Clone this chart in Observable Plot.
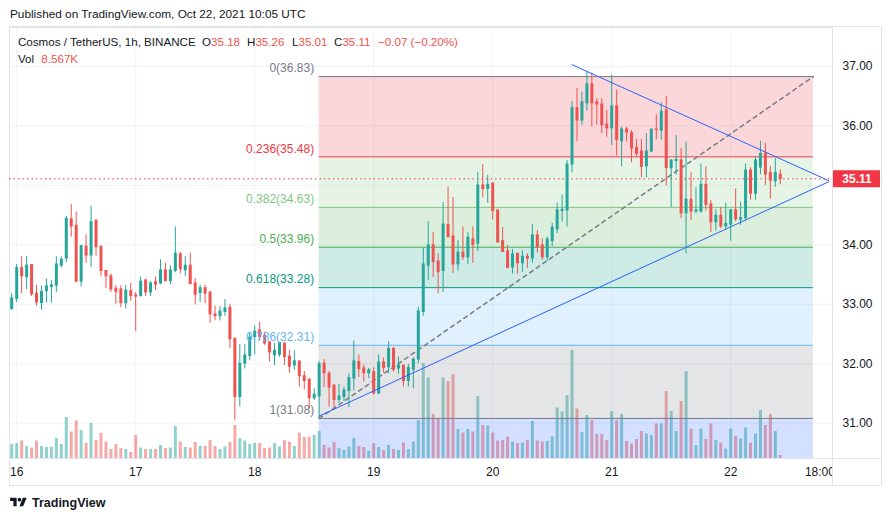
<!DOCTYPE html>
<html><head><meta charset="utf-8">
<script src="https://cdn.jsdelivr.net/npm/d3@7"></script>
<script src="https://cdn.jsdelivr.net/npm/@observablehq/plot@0.6"></script>
<style>
body{margin:0;background:#fff;font-family:"Liberation Sans",Arial,sans-serif;}
#wrap{position:relative;width:892px;height:521px;overflow:hidden;background:#fff;}
#wrap svg{position:absolute;left:0;top:0;}
.t{position:absolute;white-space:nowrap;font-size:11.6px;line-height:14px;color:#131722;z-index:5;}
.r{color:#ef5350;}
#box{position:absolute;left:9px;top:26px;width:873px;height:460px;border:1px solid #e0e3eb;box-sizing:border-box;}
#axcorner{position:absolute;left:833px;top:459px;width:48px;height:25px;background:#fff;z-index:4;}
#hline{position:absolute;left:832px;top:458px;width:50px;height:1px;background:#e0e3eb;z-index:4;}
#vline{position:absolute;left:832px;top:458px;width:1px;height:27px;background:#e0e3eb;z-index:4;}
</style></head><body>
<div id="wrap">
<div id="box"></div>
<div class="t" style="left:10px;top:7px;font-size:11.8px;">Published on TradingView.com, Oct 22, 2021 10:05 UTC</div>
<div class="t" style="left:18px;top:35px;">Cosmos / TetherUS, 1h, BINANCE</div>
<div class="t" style="left:202px;top:35px;">O<span class="r">35.18</span></div>
<div class="t" style="left:247px;top:35px;">H<span class="r">35.26</span></div>
<div class="t" style="left:292px;top:35px;">L<span class="r">35.01</span></div>
<div class="t" style="left:334px;top:35px;">C<span class="r">35.11</span></div>
<div class="t r" style="left:378px;top:35px;">−0.07 (−0.20%)</div>
<div class="t" style="left:18px;top:52px;">Vol <span class="r" style="margin-left:4px">8.567K</span></div>
<div id="axcorner"></div><div id="hline"></div><div id="vline"></div>
<div class="t" style="left:10px;top:496px;"><svg width="17" height="13" viewBox="0 0 36 28" style="position:static;vertical-align:-2px;margin-right:5px"><path d="M14 22H7V11H0V4h14v18z" fill="#131722"/><path d="M28 22h-8l7.5-18h8L28 22z" fill="#131722"/><circle cx="20" cy="8" r="4" fill="#131722"/></svg><b style="font-size:12.5px">TradingView</b></div>
</div>
<script>
// ---- data (1h candles, first candle Oct 15 23:00 UTC) ----
const firstCandle = "2021-10-15T23:00Z";
const open = [32.92,33.09,33.61,33.46,33.66,33.18,33.02,33.22,33.29,33.31,33.65,33.77,34.43,34.32,33.38,33.97,33.82,34.40,33.96,33.56,
33.47,33.26,33.25,33.02,33.22,33.15,33.14,33.40,33.20,33.37,33.35,33.57,33.39,33.56,33.84,33.57,33.65,33.35,33.19,33.27,
33.20,32.83,32.80,32.87,32.94,32.42,31.44,32.00,32.13,32.45,32.56,32.47,32.36,32.14,32.15,32.34,32.12,31.97,32.04,31.79,
31.73,31.42,31.45,32.00,31.83,31.63,31.39,31.44,31.54,31.75,32.03,31.92,31.84,31.86,31.50,32.02,31.94,32.25,31.92,31.97,
31.71,31.90,32.07,32.87,33.65,33.99,33.72,33.56,34.33,34.14,33.67,33.87,33.79,34.09,34.02,35.00,34.94,35.03,34.58,34.06,
33.89,33.62,33.85,33.69,33.80,33.77,34.16,33.99,33.79,34.06,34.26,34.57,34.58,35.35,36.30,36.09,36.38,36.70,36.40,36.36,
36.02,35.96,36.33,35.74,35.94,35.88,35.63,35.57,35.32,35.57,35.94,35.92,36.26,35.29,35.41,35.42,34.53,34.76,34.56,34.56,
35.01,34.68,34.38,34.49,34.31,34.34,34.58,34.42,34.45,35.25,34.86,35.30,35.53,35.21,35.07,35.18];
const high = [33.18,33.67,33.80,33.80,33.67,33.32,33.31,33.42,33.40,33.80,33.80,34.48,34.68,34.55,33.99,34.17,34.65,34.43,33.99,33.57,
33.51,33.31,33.31,33.32,33.35,33.20,33.46,33.42,33.38,33.46,33.75,33.69,33.65,34.30,33.87,33.80,33.86,33.43,33.32,33.32,
33.21,32.97,32.96,33.08,33.00,32.43,32.32,32.32,32.53,32.64,32.70,32.53,32.37,32.34,32.35,32.35,32.23,32.22,32.04,31.87,
31.75,31.58,32.04,32.07,31.87,31.65,31.65,31.61,31.83,32.38,32.15,31.98,31.92,31.93,32.15,32.10,32.37,32.27,32.11,31.97,
31.99,32.10,32.95,33.94,34.39,34.21,33.85,34.71,34.97,34.80,34.07,34.30,34.21,34.30,35.22,35.35,35.17,35.04,34.58,34.29,
33.99,33.92,33.85,33.90,33.85,34.34,34.24,34.10,34.13,34.36,34.70,34.84,35.42,36.41,36.63,36.57,36.92,36.89,36.46,36.46,
36.26,36.86,36.60,35.98,35.98,35.92,35.77,35.77,35.87,35.94,36.19,36.39,36.50,35.43,35.84,35.62,35.73,35.21,34.96,35.36,
35.31,34.75,34.59,34.63,34.70,34.59,34.94,34.72,35.36,35.30,35.47,35.74,35.71,35.32,35.45,35.26];
const low = [32.90,33.03,33.18,33.25,33.13,32.97,32.90,33.02,33.02,33.20,33.61,33.70,34.13,33.37,33.29,33.69,33.62,33.81,33.46,33.27,
33.20,33.00,32.94,32.92,33.05,32.54,33.12,33.13,33.13,33.23,33.33,33.38,33.33,33.53,33.51,33.47,33.33,32.99,33.03,33.01,
32.68,32.72,32.72,32.80,32.26,31.05,31.28,31.91,32.05,32.15,32.39,32.31,32.03,31.97,32.11,31.97,31.84,31.89,31.61,31.56,
31.24,31.38,31.08,31.60,31.27,31.24,31.33,31.37,31.26,31.54,31.77,31.69,31.75,31.47,31.48,31.84,31.83,31.86,31.82,31.61,
31.61,31.58,32.00,32.80,33.40,33.45,33.18,33.20,34.11,33.52,33.56,33.74,33.67,33.69,33.89,34.79,34.70,34.42,34.03,33.88,
33.60,33.51,33.51,33.54,33.60,33.69,33.86,33.74,33.72,33.97,34.19,34.38,34.30,35.21,35.74,36.01,36.25,35.98,36.01,35.87,
35.81,35.67,35.49,35.31,35.73,35.38,35.47,35.13,35.13,35.55,35.77,35.76,34.99,34.63,35.17,34.44,33.85,34.41,34.52,34.53,
34.57,34.21,34.23,34.27,34.25,34.06,34.39,34.33,34.41,34.75,34.75,35.18,35.00,34.77,34.97,35.01];
const close = [33.10,33.61,33.47,33.65,33.17,33.03,33.21,33.30,33.32,33.67,33.75,34.44,34.31,33.38,33.98,33.82,34.38,33.96,33.56,33.47,
33.25,33.21,33.02,33.23,33.14,33.13,33.38,33.20,33.35,33.33,33.57,33.39,33.57,33.85,33.59,33.65,33.34,33.16,33.27,33.18,
32.83,32.80,32.88,32.93,32.41,31.44,32.00,32.14,32.44,32.54,32.45,32.34,32.19,32.22,32.35,32.11,31.95,32.04,31.79,31.71,
31.42,31.48,31.99,31.84,31.60,31.39,31.45,31.55,31.76,32.04,31.91,31.84,31.89,31.50,32.02,31.93,32.25,31.90,31.97,31.71,
31.93,32.07,32.88,33.67,33.99,33.71,33.54,34.34,34.13,33.67,33.87,33.79,34.12,34.00,35.00,34.94,35.01,34.57,34.04,33.88,
33.61,33.84,33.69,33.80,33.77,34.16,33.96,33.79,34.09,34.29,34.58,34.59,35.35,36.30,36.09,36.40,36.70,36.38,36.36,36.01,
35.96,36.33,35.76,35.94,35.89,35.62,35.53,35.31,35.57,35.94,35.93,36.24,35.29,35.42,35.43,34.53,34.76,34.56,34.58,35.01,
34.67,34.38,34.49,34.31,34.35,34.58,34.43,34.45,35.25,34.86,35.42,35.53,35.18,35.08,35.21,35.11];
const volumeK = [40.0,42.9,50.1,34.3,30.0,50.1,34.3,31.5,31.5,57.2,40.0,117.3,75.8,107.3,80.1,42.9,100.1,51.5,71.5,47.2,
25.7,40.0,28.6,25.7,17.2,65.8,30.0,25.7,25.7,25.7,37.2,28.6,30.0,91.5,47.2,31.5,30.0,45.8,34.3,34.3,
51.5,34.3,25.7,32.9,45.8,94.4,57.2,50.1,40.0,42.9,42.9,28.6,30.0,42.9,32.9,51.5,47.2,34.3,72.9,60.1,
61.5,65.8,77.2,37.2,30.0,45.8,28.6,22.9,32.9,57.2,34.3,31.5,20.0,42.9,31.5,22.9,37.2,25.7,22.9,44.3,
25.7,47.2,108.7,271.7,230.2,125.8,114.4,230.2,220.2,240.2,82.9,72.9,82.9,75.8,177.3,94.4,93.0,72.9,50.1,51.5,
61.5,47.2,42.9,44.3,51.5,105.8,50.1,47.2,48.6,61.5,144.4,133.0,180.2,308.9,141.6,74.4,123.0,108.7,68.6,68.6,
51.5,134.4,108.7,125.8,48.6,41.5,54.3,77.2,70.1,65.8,98.7,98.7,191.6,134.4,77.2,163.0,248.8,84.4,37.2,84.4,
54.3,98.7,51.5,44.3,27.2,84.4,62.9,55.8,87.2,44.3,70.1,137.3,94.4,125.8,77.2,8.567];

// Fibonacci retracement
const fibRatios = [0, 0.236, 0.382, 0.5, 0.618, 0.786, 1, 1.618];
const fibPrices = [36.83, 35.48, 34.63, 33.96, 33.28, 32.31, 31.08, 27.53];
const fibColors = ["#787b86", "#f23645", "#81c784", "#4caf50", "#089981", "#64b5f6", "#787b86", "#2962ff"];
const fibStart = "2021-10-18T13:00Z", fibEnd = "2021-10-22T16:40Z";
// trend lines
const upperTimes = ["2021-10-20T16:00Z", "2021-10-22T19:45Z"], upperPrices = [37.03, 35.08];
const lowerTimes = ["2021-10-18T13:00Z", "2021-10-22T19:45Z"], lowerPrices = [31.12, 35.06];
const lastPrice = 35.11;
// axes (35.00 is hidden behind the last-price tag)
const priceGrid = [31, 32, 33, 34, 35, 36, 37];
const priceTickLabels = [31, 32, 33, 34, 36, 37];
const timeTicks = ["2021-10-16T00:00Z","2021-10-17T00:00Z","2021-10-18T00:00Z","2021-10-19T00:00Z","2021-10-20T00:00Z","2021-10-21T00:00Z","2021-10-22T00:00Z","2021-10-22T18:00Z"];
const xDomain = ["2021-10-15T22:33Z", "2021-10-22T20:32Z"];
const yDomain = [30.406, 37.656];
const volDomain = [0, 1233];

// ---- build ----
const UP = "#26a69a", DOWN = "#ef5350";
const t0 = new Date(firstCandle);
const candles = open.map((o, i) => ({t: new Date(+t0 + i * 3600e3), o, h: high[i], l: low[i], c: close[i], v: volumeK[i]}));
const ups = candles.filter(d => d.c >= d.o), downs = candles.filter(d => d.c < d.o);
const fs = new Date(fibStart), fe = new Date(fibEnd);
const levels = fibRatios.map((r, i) => ({r, p: fibPrices[i], color: fibColors[i], label: `${r}(${fibPrices[i].toFixed(2)})`}));
const shownLevels = levels.filter(d => d.r <= 1);
const bands = levels.slice(1).map((d, i) => ({a: levels[i].p, b: d.p, color: d.color}));
const ticksX = timeTicks.map(d => new Date(d));
const dayTicks = ticksX.filter(d => d.getUTCHours() === 0);
const diag = [{t: fs, p: fibPrices[6]}, {t: fe, p: fibPrices[0]}];
const upper = upperTimes.map((t, i) => ({t: new Date(t), p: upperPrices[i]}));
const lower = lowerTimes.map((t, i) => ({t: new Date(t), p: lowerPrices[i]}));

const W = 892, H = 521;
const dims = {width: W, height: H, marginLeft: 9, marginRight: 60, marginTop: 27, marginBottom: 63};
const xs = {type: "utc", domain: xDomain.map(d => new Date(d))};
const style = {background: "transparent", fontFamily: "Liberation Sans, Arial, sans-serif", fontSize: "12px", color: "#131722", overflow: "visible"};
const wrap = document.getElementById("wrap");

// A: grid + axes
const A = Plot.plot({
  ...dims, style,
  x: {...xs, axis: null}, y: {domain: yDomain, axis: null},
  marks: [
    Plot.ruleY(priceGrid, {stroke: "#f0f3fa"}),
    Plot.ruleX(dayTicks, {stroke: "#f0f3fa"}),
    Plot.axisY(priceTickLabels, {anchor: "right", tickSize: 0, tickPadding: 10, tickFormat: d => d.toFixed(2), label: null, fill: "#131722"}),
    Plot.axisX(ticksX, {anchor: "bottom", tickSize: 0, tickPadding: 9, label: null, fill: "#131722",
      tickFormat: d => d.getUTCHours() === 0 ? String(d.getUTCDate()) : d3.utcFormat("%H:%M")(d)}),
    Plot.frame({stroke: "#e0e3eb"})
  ]
});
// B: volume
const B = Plot.plot({
  ...dims, style,
  x: {...xs, axis: null}, y: {domain: volDomain, axis: null},
  marks: [
    Plot.ruleX(ups, {x: "t", y1: 0, y2: "v", stroke: UP, strokeOpacity: 0.5, strokeWidth: 3}),
    Plot.ruleX(downs, {x: "t", y1: 0, y2: "v", stroke: DOWN, strokeOpacity: 0.5, strokeWidth: 3})
  ]
});
// C: fib, candles, drawings
const C = Plot.plot({
  ...dims, style,
  x: {...xs, axis: null}, y: {domain: yDomain, axis: null},
  marks: [
    Plot.rect(bands, {x1: () => fs, x2: () => fe, y1: "a", y2: "b", fill: "color", fillOpacity: 0.2, clip: true}),
    Plot.ruleY(shownLevels, {y: "p", x1: () => fs, x2: () => fe, stroke: "color", strokeWidth: 1}),
    Plot.line(diag, {x: "t", y: "p", stroke: "#787b86", strokeDasharray: "4,4"}),
    Plot.ruleY([lastPrice], {stroke: "#f23645", strokeDasharray: "1.5,3"}),
    Plot.ruleX(ups, {x: "t", y1: "l", y2: "h", stroke: UP}),
    Plot.ruleX(downs, {x: "t", y1: "l", y2: "h", stroke: DOWN}),
    Plot.ruleX(ups, {x: "t", y1: "c", y2: "o", stroke: UP, strokeWidth: 3, insetTop: -0.5, insetBottom: -0.5}),
    Plot.ruleX(downs, {x: "t", y1: "o", y2: "c", stroke: DOWN, strokeWidth: 3, insetTop: -0.5, insetBottom: -0.5}),
    Plot.line(upper, {x: "t", y: "p", stroke: "#2962ff", strokeWidth: 1}),
    Plot.line(lower, {x: "t", y: "p", stroke: "#2962ff", strokeWidth: 1}),
    Plot.text(shownLevels, {x: () => fs, y: "p", text: "label", fill: "color", textAnchor: "end", dx: -5, dy: -8, fontSize: 12}),
    Plot.ruleY([lastPrice], {stroke: "#f23645", strokeWidth: 17, insetLeft: 824, insetRight: -48}),
    Plot.text([lastPrice], {y: d => d, frameAnchor: "right", dx: 24.5, text: d => d.toFixed(2), fill: "white", fontWeight: "bold", fontSize: 12, textAnchor: "middle"})
  ]
});
const first = wrap.querySelector("#axcorner");
wrap.insertBefore(A, first);
wrap.insertBefore(B, first);
wrap.appendChild(C);
C.style.zIndex = 6;
</script>
</body></html>
